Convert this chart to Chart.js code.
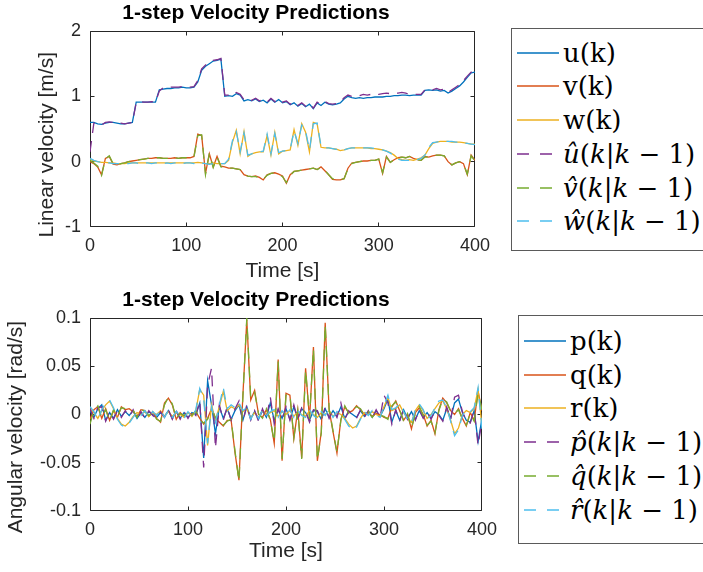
<!doctype html>
<html>

<head>
	<title>1-step Velocity Predictions</title>
	<script src="https://cdn.jsdelivr.net/npm/chart.js"></script>
	<style>
		body {
			margin: 0;
			width: 703px;
			height: 572px;
			overflow: hidden;
			position: relative;
			background: #fff;
			font-family: 'Liberation Sans', Arial, sans-serif;
		}
		canvas.plot {
			position: absolute;
			left: 0;
		}
		.legend {
			position: absolute;
			border: 1px solid #5a5a5a;
			background: #fff;
			font-family: 'DejaVu Serif', serif;
			font-size: 26px;
			color: #000;
		}
		.legend .row {
			position: absolute;
			height: 34px;
			display: flex;
			align-items: center;
			white-space: nowrap;
		}
		.legend svg {
			margin-right: 4px;
		}
	</style>
</head>

<body>
	<canvas id="linear" class="plot" width="512" height="290" style="top:0px"></canvas>
	<canvas id="angular" class="plot" width="512" height="287" style="top:285px"></canvas>
	<div id="legendLin" class="legend" style="left:511px; top:28px; width:200px; height:221px;"></div>
	<div id="legendAng" class="legend" style="left:518px; top:315px; width:200px; height:227px;"></div>
	<script>
		// sample times [s], one sample every 4 s
		var TIME = Array.from({length: 101}, function(_, i) { return i * 4; });

		// linear velocity [m/s]
		var U_MEAS = [
			0.60, 0.60, 0.58, 0.57, 0.59, 0.60, 0.60, 0.59, 0.58, 0.58,
			0.59, 0.60, 0.91, 0.91, 0.91, 0.91, 0.91, 0.91, 1.10, 1.11,
			1.12, 1.12, 1.13, 1.13, 1.14, 1.13, 1.13, 1.14, 1.22, 1.40,
			1.46, 1.50, 1.54, 1.55, 1.57, 1.00, 1.01, 1.00, 1.04, 1.02,
			0.93, 0.95, 0.93, 0.96, 0.92, 0.94, 0.90, 0.96, 0.91, 0.95,
			0.90, 0.92, 0.87, 0.90, 0.85, 0.89, 0.84, 0.88, 0.81, 0.90,
			0.86, 0.91, 0.88, 0.87, 0.88, 0.90, 0.96, 1.00, 0.98, 0.97,
			0.98, 0.97, 0.98, 0.98, 0.99, 0.99, 0.99, 1.00, 1.00, 1.01,
			1.01, 1.02, 1.02, 1.01, 1.02, 1.02, 1.02, 1.09, 1.10, 1.09,
			1.10, 1.08, 1.09, 1.05, 1.08, 1.12, 1.16, 1.22, 1.29, 1.36,
			1.37
		];
		var V_MEAS = [
			0.00, -0.03, -0.08, -0.20, 0.05, 0.08, -0.04, -0.05, -0.03, -0.02,
			0.00, 0.01, 0.02, 0.03, 0.04, 0.05, 0.05, 0.06, 0.06, 0.05,
			0.05, 0.05, 0.06, 0.05, 0.06, 0.06, 0.06, 0.08, 0.42, 0.40,
			-0.18, 0.12, -0.08, 0.08, -0.07, -0.08, -0.10, -0.10, -0.11, -0.12,
			-0.20, -0.22, -0.23, -0.22, -0.24, -0.28, -0.20, -0.18, -0.17, -0.19,
			-0.22, -0.33, -0.20, -0.15, -0.14, -0.13, -0.12, -0.11, -0.10, -0.12,
			-0.08, -0.14, -0.20, -0.27, -0.28, -0.28, -0.26, -0.10, -0.02, -0.01,
			0.00, 0.01, 0.01, 0.02, 0.02, 0.04, -0.18, 0.08, -0.01, 0.03,
			0.06, 0.07, 0.06, 0.08, 0.05, 0.03, 0.02, 0.08, 0.07, 0.09,
			0.10, 0.10, 0.09, 0.00, -0.05, -0.02, 0.00, -0.03, -0.20, 0.10,
			0.02
		];
		var W_MEAS = [
			0.04, 0.01, 0.00, -0.01, -0.01, -0.02, -0.02, -0.03, -0.03, -0.03,
			-0.02, -0.02, -0.02, -0.02, -0.02, -0.02, -0.02, -0.02, -0.02, -0.02,
			-0.02, -0.02, -0.02, -0.02, -0.02, -0.02, -0.02, -0.02, -0.01, -0.02,
			-0.03, -0.03, -0.02, -0.03, -0.03, -0.03, 0.02, 0.30, 0.48, 0.12,
			0.46, 0.08, 0.12, 0.14, 0.15, 0.15, 0.40, 0.10, 0.45, 0.12,
			0.16, 0.17, 0.18, 0.49, 0.25, 0.58, 0.45, 0.15, 0.60, 0.58,
			0.22, 0.21, 0.21, 0.20, 0.19, 0.17, 0.18, 0.20, 0.21, 0.21,
			0.21, 0.21, 0.21, 0.20, 0.20, 0.19, 0.18, 0.16, 0.14, 0.10,
			0.05, 0.03, 0.02, 0.03, 0.02, 0.04, 0.06, 0.10, 0.20, 0.28,
			0.30, 0.31, 0.31, 0.31, 0.30, 0.30, 0.30, 0.29, 0.28, 0.27,
			0.27
		];
		var U_PRED = [
			0.15, 0.59, 0.57, 0.56, 0.60, 0.61, 0.60, 0.59, 0.59, 0.58,
			0.59, 0.60, 0.90, 0.92, 0.91, 0.91, 0.92, 0.91, 1.08, 1.13,
			1.13, 1.14, 1.14, 1.14, 1.15, 1.14, 1.14, 1.15, 1.24, 1.42,
			1.48, 1.50, 1.55, 1.56, 1.58, 1.02, 1.02, 1.01, 1.06, 1.03,
			0.95, 0.96, 0.94, 0.97, 0.93, 0.95, 0.91, 0.97, 0.92, 0.96,
			0.91, 0.93, 0.88, 0.92, 0.86, 0.90, 0.85, 0.89, 0.82, 0.91,
			0.88, 0.92, 0.89, 0.88, 0.89, 0.91, 0.98, 1.02, 1.00, 1.00,
			1.01, 1.03, 1.02, 1.03, 1.04, 1.03, 1.04, 1.05, 1.04, 1.05,
			1.05, 1.06, 1.05, 1.03, 1.03, 1.03, 1.03, 1.10, 1.11, 1.10,
			1.12, 1.10, 1.11, 1.06, 1.10, 1.14, 1.18, 1.24, 1.31, 1.37,
			1.38
		];
		var V_PRED = [
			0.02, -0.02, -0.07, -0.21, 0.04, 0.09, -0.03, -0.05, -0.03, -0.02,
			0.00, 0.01, 0.02, 0.03, 0.04, 0.05, 0.05, 0.06, 0.06, 0.05,
			0.05, 0.05, 0.06, 0.05, 0.06, 0.06, 0.06, 0.07, 0.40, 0.41,
			-0.20, 0.13, -0.09, 0.07, -0.08, -0.09, -0.10, -0.10, -0.11, -0.12,
			-0.19, -0.22, -0.23, -0.23, -0.24, -0.27, -0.21, -0.18, -0.17, -0.19,
			-0.23, -0.32, -0.21, -0.15, -0.14, -0.13, -0.12, -0.11, -0.10, -0.12,
			-0.09, -0.13, -0.20, -0.26, -0.28, -0.28, -0.26, -0.11, -0.03, -0.01,
			0.00, 0.01, 0.01, 0.02, 0.02, 0.04, -0.17, 0.07, -0.01, 0.03,
			0.06, 0.07, 0.06, 0.08, 0.05, 0.03, 0.02, 0.07, 0.07, 0.09,
			0.10, 0.10, 0.09, 0.01, -0.05, -0.02, 0.00, -0.03, -0.19, 0.09,
			0.01
		];
		var W_PRED = [
			0.05, 0.02, 0.00, -0.01, -0.02, -0.02, -0.03, -0.03, -0.03, -0.03,
			-0.03, -0.02, -0.02, -0.03, -0.02, -0.02, -0.03, -0.02, -0.02, -0.03,
			-0.02, -0.03, -0.02, -0.02, -0.03, -0.02, -0.02, -0.03, -0.01, -0.02,
			-0.03, -0.04, -0.03, -0.03, -0.03, -0.03, 0.04, 0.32, 0.46, 0.15,
			0.44, 0.10, 0.12, 0.14, 0.15, 0.16, 0.42, 0.12, 0.43, 0.14,
			0.16, 0.17, 0.19, 0.47, 0.28, 0.56, 0.47, 0.18, 0.58, 0.59,
			0.24, 0.21, 0.21, 0.20, 0.19, 0.16, 0.18, 0.20, 0.21, 0.21,
			0.21, 0.21, 0.21, 0.21, 0.20, 0.19, 0.18, 0.16, 0.13, 0.09,
			0.04, 0.02, 0.02, 0.02, 0.03, 0.03, 0.05, 0.10, 0.22, 0.29,
			0.30, 0.31, 0.31, 0.31, 0.31, 0.30, 0.30, 0.29, 0.28, 0.27,
			0.26
		];

		// angular velocity [rad/s]
		var P_MEAS = [
			0.004, -0.003, 0.006, 0.010, -0.006, 0.002, -0.004, 0.005, -0.002, 0.003,
			-0.001, 0.004, -0.004, 0.002, -0.003, 0.003, 0.000, -0.003, 0.002, -0.002,
			0.004, -0.004, 0.003, -0.004, 0.002, -0.003, 0.002, 0.000, 0.012, -0.045,
			0.035, 0.010, -0.020, 0.008, -0.004, 0.006, -0.005, 0.004, 0.010, -0.006,
			0.008, -0.004, 0.003, -0.005, 0.004, -0.003, 0.012, -0.006, 0.005, -0.004,
			0.006, -0.005, 0.008, -0.004, 0.006, 0.002, -0.006, 0.004, 0.003, -0.005,
			0.006, -0.003, 0.004, -0.002, 0.008, -0.004, 0.003, 0.000, -0.003, 0.004,
			-0.002, 0.003, -0.003, 0.004, -0.002, 0.006, 0.016, -0.008, 0.004, -0.006,
			0.005, -0.004, 0.003, -0.005, 0.004, -0.003, 0.002, -0.004, 0.003, 0.000,
			-0.006, 0.006, -0.004, 0.012, 0.016, 0.002, -0.006, -0.008, 0.004, -0.028,
			-0.004
		];
		var Q_MEAS = [
			-0.005, 0.005, 0.008, -0.004, 0.006, -0.006, 0.004, -0.003, 0.008, 0.005,
			0.006, 0.003, -0.002, 0.005, 0.004, -0.002, 0.003, -0.004, -0.008, 0.012,
			0.017, 0.010, -0.005, 0.002, -0.002, 0.002, 0.000, 0.003, -0.004, -0.010,
			-0.004, 0.006, -0.004, -0.008, -0.012, -0.006, -0.006, -0.040, -0.068, 0.020,
			0.098, 0.015, 0.025, 0.000, -0.003, 0.005, -0.005, -0.030, 0.057, -0.048,
			0.022, 0.020, -0.025, 0.005, -0.045, 0.048, -0.005, 0.070, -0.048, -0.018,
			0.095, 0.005, -0.018, -0.040, -0.005, 0.008, 0.002, 0.004, 0.009, 0.005,
			0.000, 0.002, -0.002, 0.001, 0.000, -0.003, -0.004, 0.008, 0.014, 0.004,
			-0.006, 0.000, -0.015, 0.002, 0.007, 0.000, -0.012, -0.006, -0.020, 0.005,
			0.017, 0.012, 0.004, 0.000, 0.006, -0.004, -0.012, 0.002, -0.006, 0.024,
			0.004
		];
		var R_MEAS = [
			0.006, 0.002, -0.004, 0.004, 0.010, 0.014, 0.006, -0.004, -0.010, -0.012,
			-0.008, -0.002, 0.002, 0.000, 0.003, -0.002, 0.002, 0.000, 0.004, -0.002,
			0.003, -0.002, 0.002, 0.000, -0.003, 0.002, -0.002, 0.004, 0.026, 0.020,
			-0.032, 0.010, -0.006, 0.008, 0.024, 0.004, 0.008, 0.006, 0.010, 0.003,
			0.006, -0.004, 0.002, -0.003, 0.004, 0.000, 0.002, 0.004, -0.002, 0.003,
			0.000, 0.004, -0.002, 0.003, 0.000, -0.002, 0.004, 0.000, -0.003, 0.002,
			0.000, 0.004, -0.002, 0.002, 0.000, -0.004, -0.010, -0.014, -0.012, -0.004,
			0.002, 0.000, 0.003, 0.000, -0.002, 0.008, 0.018, 0.004, 0.006, 0.010,
			0.002, -0.004, -0.008, 0.004, 0.010, 0.004, -0.004, 0.000, 0.006, 0.012,
			0.014, 0.006, -0.006, -0.020, -0.014, 0.000, 0.004, 0.002, 0.006, 0.026,
			-0.012
		];
		var P_PRED = [
			0.006, -0.004, 0.007, 0.008, -0.007, 0.003, -0.005, 0.004, -0.003, 0.004,
			-0.002, 0.005, -0.005, 0.003, -0.004, 0.004, -0.001, -0.004, 0.003, -0.003,
			0.005, -0.005, 0.004, -0.005, 0.003, -0.004, 0.003, -0.001, 0.014, -0.055,
			0.030, 0.048, -0.035, 0.010, -0.006, 0.008, -0.006, 0.006, 0.014, -0.008,
			0.010, -0.006, 0.004, -0.007, 0.006, -0.004, 0.018, -0.010, 0.006, -0.005,
			0.008, -0.006, 0.010, -0.005, 0.007, 0.003, -0.008, 0.005, 0.004, -0.006,
			0.008, -0.004, 0.005, -0.003, 0.012, -0.005, 0.004, -0.001, -0.004, 0.005,
			-0.003, 0.004, -0.004, 0.005, -0.003, 0.020, 0.012, -0.010, 0.005, -0.007,
			0.006, -0.005, 0.004, -0.006, 0.005, -0.004, 0.003, -0.005, 0.004, -0.001,
			-0.007, 0.008, -0.005, 0.018, 0.020, 0.003, -0.007, -0.009, 0.005, -0.032,
			-0.006
		];
		var Q_PRED = [
			-0.010, 0.004, 0.009, -0.003, 0.005, -0.007, 0.005, -0.002, 0.007, 0.006,
			0.005, 0.004, -0.003, 0.006, 0.003, -0.001, 0.002, -0.005, -0.007, 0.010,
			0.018, 0.011, -0.004, 0.001, -0.001, 0.003, -0.001, 0.004, -0.005, -0.009,
			-0.005, 0.005, -0.003, -0.009, -0.011, -0.007, -0.005, -0.038, -0.069, 0.018,
			0.100, 0.017, 0.023, 0.001, -0.004, 0.006, -0.006, -0.028, 0.055, -0.046,
			0.020, 0.021, -0.024, 0.004, -0.046, 0.046, -0.004, 0.068, -0.047, -0.019,
			0.093, 0.006, -0.017, -0.039, -0.006, 0.009, 0.001, 0.005, 0.008, 0.006,
			-0.001, 0.003, -0.003, 0.002, -0.001, -0.002, -0.005, 0.009, 0.013, 0.005,
			-0.007, 0.001, -0.014, 0.001, 0.008, -0.001, -0.011, -0.007, -0.019, 0.004,
			0.016, 0.013, 0.003, 0.001, 0.005, -0.005, -0.011, 0.001, -0.007, 0.022,
			0.005
		];
		var R_PRED = [
			0.008, 0.003, -0.005, 0.005, 0.012, 0.015, 0.007, -0.005, -0.011, -0.013,
			-0.009, -0.003, 0.003, -0.001, 0.004, -0.003, 0.003, -0.001, 0.005, -0.003,
			0.004, -0.003, 0.003, -0.001, -0.004, 0.003, -0.003, 0.005, 0.027, 0.016,
			-0.030, 0.008, -0.008, 0.010, 0.028, 0.006, 0.010, 0.007, 0.012, 0.004,
			0.007, -0.005, 0.003, -0.004, 0.005, -0.001, 0.003, 0.005, -0.003, 0.004,
			-0.001, 0.005, -0.003, 0.004, -0.001, -0.003, 0.005, -0.001, -0.004, 0.003,
			-0.001, 0.005, -0.003, 0.003, -0.001, -0.005, -0.012, -0.016, -0.013, -0.005,
			0.003, -0.001, 0.004, -0.001, -0.003, 0.009, 0.020, 0.005, 0.007, 0.011,
			0.003, -0.005, -0.009, 0.005, 0.011, 0.005, -0.005, -0.001, 0.007, 0.014,
			0.015, 0.007, -0.007, -0.022, -0.016, -0.001, 0.005, 0.003, 0.007, 0.028,
			-0.015
		];

		// MATLAB default line colours
		var BLUE = '#0072BD', RED = '#D95319', YELLOW = '#EDB120',
			PURPLE = '#7E2F8E', GREEN = '#77AC30', CYAN = '#4DBEEE';

		var LIN_SERIES = [
			{label: 'u(k)', html: 'u(k)', values: U_MEAS, color: BLUE, dashed: false},
			{label: 'v(k)', html: 'v(k)', values: V_MEAS, color: RED, dashed: false},
			{label: 'w(k)', html: 'w(k)', values: W_MEAS, color: YELLOW, dashed: false},
			{label: 'û(k|k-1)', html: '<i>û</i>(<i>k</i>|<i>k</i> − 1)', values: U_PRED, color: PURPLE, dashed: true},
			{label: 'v̂(k|k-1)', html: '<i>v̂</i>(<i>k</i>|<i>k</i> − 1)', values: V_PRED, color: GREEN, dashed: true},
			{label: 'ŵ(k|k-1)', html: '<i>ŵ</i>(<i>k</i>|<i>k</i> − 1)', values: W_PRED, color: CYAN, dashed: true}
		];
		var ANG_SERIES = [
			{label: 'p(k)', html: 'p(k)', values: P_MEAS, color: BLUE, dashed: false},
			{label: 'q(k)', html: 'q(k)', values: Q_MEAS, color: RED, dashed: false},
			{label: 'r(k)', html: 'r(k)', values: R_MEAS, color: YELLOW, dashed: false},
			{label: 'p̂(k|k-1)', html: '<i>p̂</i>(<i>k</i>|<i>k</i> − 1)', values: P_PRED, color: PURPLE, dashed: true},
			{label: 'q̂(k|k-1)', html: '<i>q̂</i>(<i>k</i>|<i>k</i> − 1)', values: Q_PRED, color: GREEN, dashed: true},
			{label: 'r̂(k|k-1)', html: '<i>r̂</i>(<i>k</i>|<i>k</i> − 1)', values: R_PRED, color: CYAN, dashed: true}
		];

		var AXIS_COLOR = '#262626';
		var FONT = "'Liberation Sans', Arial, sans-serif";

		// box around the axes with inward tick marks, drawn under the lines
		var axesBox = {
			id: 'axesBox',
			beforeDatasetsDraw: function(chart) {
				var ctx = chart.ctx, a = chart.chartArea;
				var xs = chart.scales.x, ys = chart.scales.y;
				var l = a.left + 0.5, r = a.right - 0.5, t = a.top + 0.5, b = a.bottom - 0.5;
				var snap = function(p, lo, hi) { return Math.min(hi, Math.max(lo, Math.round(p - 0.5) + 0.5)); };
				ctx.save();
				ctx.strokeStyle = AXIS_COLOR;
				ctx.lineWidth = 1;
				ctx.beginPath();
				ctx.rect(l, t, r - l, b - t);
				xs.ticks.forEach(function(tk) {
					var px = snap(xs.getPixelForValue(tk.value), l, r);
					ctx.moveTo(px, b); ctx.lineTo(px, b - 4);
					ctx.moveTo(px, t); ctx.lineTo(px, t + 4);
				});
				ys.ticks.forEach(function(tk) {
					var py = snap(ys.getPixelForValue(tk.value), t, b);
					ctx.moveTo(l, py); ctx.lineTo(l + 4, py);
					ctx.moveTo(r, py); ctx.lineTo(r - 4, py);
				});
				ctx.stroke();
				ctx.restore();
			}
		};

		function makeChart(id, series, cfg) {
			var n = series.length;
			return new Chart(document.getElementById(id), {
				type: 'line',
				data: {
					datasets: series.map(function(s, i) {
						return {
							label: s.label,
							data: TIME.map(function(t, k) { return {x: t, y: s.values[k]}; }),
							borderColor: s.color,
							borderWidth: 1.3,
							borderDash: s.dashed ? [11, 8] : [],
							pointRadius: 0,
							tension: 0,
							fill: false,
							order: n - i
						};
					})
				},
				options: {
					responsive: false,
					animation: false,
					devicePixelRatio: 1,
					layout: {padding: 0},
					plugins: {
						legend: {display: false},
						tooltip: {enabled: false},
						title: {
							display: true,
							text: '1-step Velocity Predictions',
							color: '#000',
							font: {family: FONT, size: 21, weight: 'bold'},
							padding: cfg.titlePad
						}
					},
					scales: {
						x: {
							type: 'linear',
							min: 0,
							max: 400,
							ticks: {stepSize: 100, padding: 8, maxRotation: 0, color: AXIS_COLOR, font: {family: FONT, size: 18}},
							grid: {display: false, drawTicks: false},
							border: {display: false},
							title: {display: true, text: 'Time [s]', color: AXIS_COLOR, font: {family: FONT, size: 21}, padding: {top: 0, bottom: cfg.xTitlePad}},
							afterFit: function(scale) { scale.height = cfg.xHeight; }
						},
						y: {
							min: cfg.yMin,
							max: cfg.yMax,
							ticks: {
								stepSize: cfg.yStep,
								padding: 9,
								color: AXIS_COLOR,
								font: {family: FONT, size: 18},
								callback: function(v) { return String(Math.round(v * 1000) / 1000); }
							},
							grid: {display: false, drawTicks: false},
							border: {display: false},
							title: {display: true, text: cfg.yTitle, color: AXIS_COLOR, font: {family: FONT, size: 21}, padding: {top: cfg.yTitlePad, bottom: 0}},
							afterFit: function(scale) { scale.width = 90; }
						},
						// empty strip right of the axes, so the title centres over the whole figure column
						gap: {
							type: 'linear',
							position: 'right',
							ticks: {display: false},
							grid: {display: false, drawTicks: false},
							border: {display: false},
							afterFit: function(scale) { scale.width = cfg.padRight; }
						}
					}
				},
				plugins: [axesBox]
			});
		}

		function makeLegend(id, series, firstRow) {
			var box = document.getElementById(id);
			series.forEach(function(s, i) {
				var row = document.createElement('div');
				row.className = 'row';
				row.style.left = '5px';
				row.style.top = (firstRow + i * 33.7 - 17) + 'px';
				var dash = s.dashed ? ' stroke-dasharray="12 11"' : '';
				row.innerHTML = '<svg width="42" height="4"><line x1="0" y1="2" x2="42" y2="2" stroke="' + s.color +
					'" stroke-width="1.3"' + dash + '/></svg><span>' + s.html + '</span>';
				box.appendChild(row);
			});
		}

		window.onload = function() {
			window.linChart = makeChart('linear', LIN_SERIES, {
				padRight: 37, titlePad: {top: 1, bottom: 4.8}, xHeight: 63, xTitlePad: 6.4,
				yMin: -1, yMax: 2, yStep: 1, yTitlePad: 34.4,
				yTitle: 'Linear velocity [m/s]\u2003\u2002'
			});
			window.angChart = makeChart('angular', ANG_SERIES, {
				padRight: 30, titlePad: {top: 2.2, bottom: 5.6}, xHeight: 61, xTitlePad: 8.4,
				yMin: -0.1, yMax: 0.1, yStep: 0.05, yTitlePad: 3.4,
				yTitle: 'Angular velocity [rad/s]\u2003\u2009'
			});
			makeLegend('legendLin', LIN_SERIES, 23.7);
			makeLegend('legendAng', ANG_SERIES, 25);
		};
	</script>
</body>

</html>
